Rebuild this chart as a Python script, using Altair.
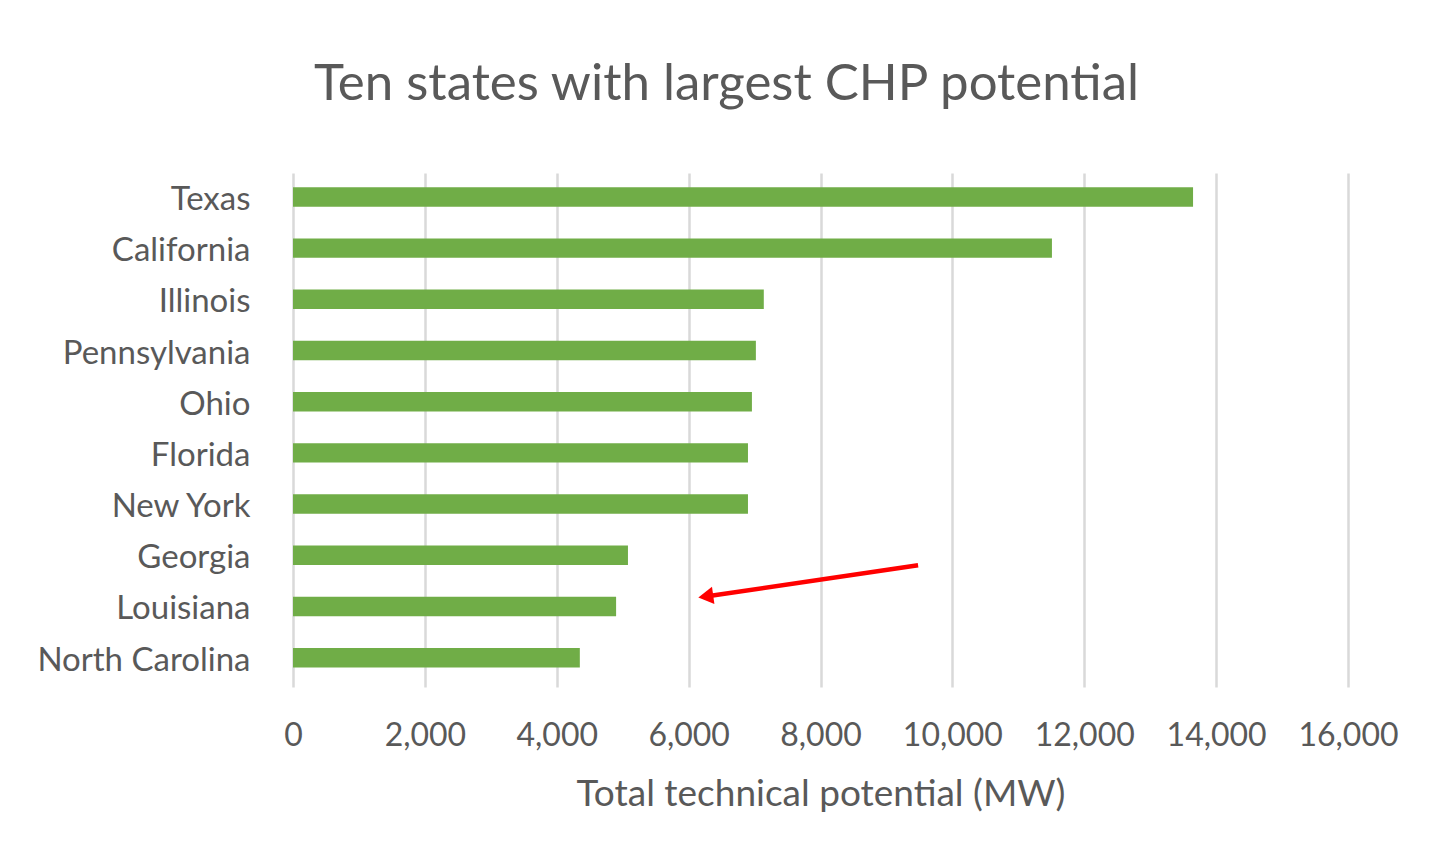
import altair as alt
import pandas as pd

states = ["Texas", "California", "Illinois", "Pennsylvania", "Ohio",
          "Florida", "New York", "Georgia", "Louisiana", "North Carolina"]
potential_mw = [13650, 11510, 7140, 7020, 6960, 6900, 6900, 5080, 4900, 4350]
x_ticks = [0, 2000, 4000, 6000, 8000, 10000, 12000, 14000, 16000]

arrow_tail_state = ["Georgia"]
arrow_head_state = ["Louisiana"]
arrow_tail_mw = [9480]
arrow_head_mw = [6260]

FONT = "Lato"
TXT = "#595959"

df = pd.DataFrame({"state": states, "mw": potential_mw})
arrow_df = pd.DataFrame({
    "s1": arrow_tail_state, "s2": arrow_head_state,
    "x1": arrow_tail_mw, "x2": arrow_head_mw,
})

yscale = alt.Scale(domain=states, paddingInner=0.62, paddingOuter=0.33, align=0.42)
xscale = alt.Scale(domain=[0, 16000], nice=False)

bars = alt.Chart(df).mark_bar(color="#70AD47").encode(
    x=alt.X("mw:Q", scale=xscale,
            axis=alt.Axis(values=x_ticks, format=",.0f", grid=True,
                          labelOverlap=False, labelFlush=False,
                          title="Total technical potential (MW)")),
    y=alt.Y("state:N", scale=yscale, sort=states, title=None,
            axis=alt.Axis(labelPadding=43, labelLimit=400, labelOffset=3,
                          labelFontSize=33)),
)

arrow_line = alt.Chart(arrow_df).mark_rule(
    color="#FF0000", strokeWidth=4.5, yOffset=10, y2Offset=-10
).encode(
    x=alt.X("x1:Q", scale=xscale),
    x2="x2:Q",
    y=alt.Y("s1:N", scale=yscale, sort=states),
    y2="s2:N",
)

arrow_head = alt.Chart(arrow_df).mark_point(
    shape="triangle-left", filled=True, color="#FF0000", opacity=1,
    size=300, angle=352, yOffset=-10
).encode(
    x=alt.X("x2:Q", scale=xscale),
    y=alt.Y("s2:N", scale=yscale, sort=states),
)

chart = alt.layer(bars, arrow_line, arrow_head).properties(
    width=1055, height=514,
    background="white",
    autosize=alt.AutoSizeParams(type="none"),
    padding={"left": 285, "top": 165, "right": 70, "bottom": 160},
    title=alt.TitleParams(
        "Ten states with largest CHP potential",
        anchor="middle", dx=-94, offset=62, fontSize=51,
        font=FONT, fontWeight="normal", color=TXT,
    ),
).configure_view(stroke=None).configure_axis(
    labelFont=FONT, titleFont=FONT, labelColor=TXT, titleColor=TXT,
    labelFontSize=32, titleFontSize=37, titleFontWeight="normal",
    domain=False, ticks=False, gridColor="#D9D9D9", gridWidth=2.5,
).configure_axisX(
    labelPadding=33, titlePadding=25,
).configure_axisY(
    grid=False,
)

chart.save("out.html", embed_options={"renderer": "svg", "actions": False})
